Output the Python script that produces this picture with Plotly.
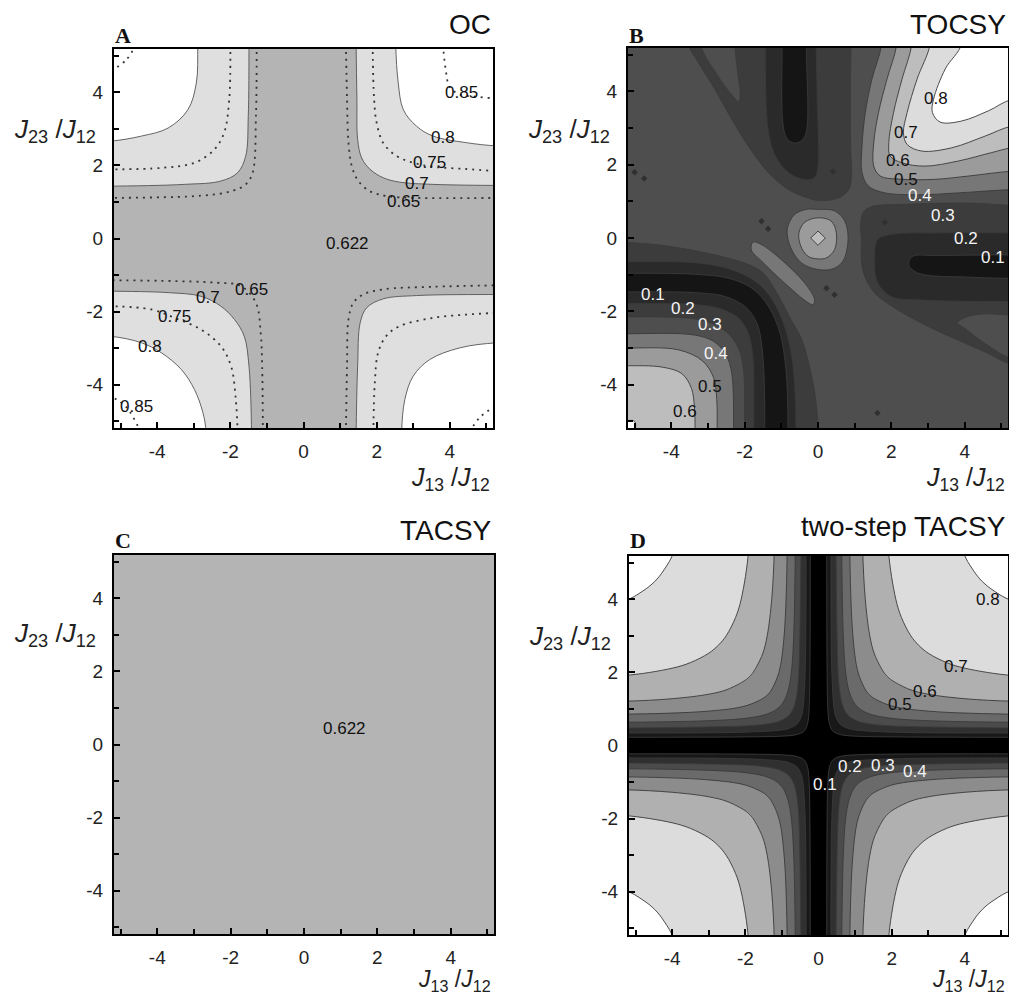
import plotly.graph_objects as go

# ================= DATA =================
TICK_VALS = [-4, -2, 0, 2, 4]
TICK_TEXT = ['-4', '-2', '0', '2', '4']
AX_RANGE = [-5.18, 5.18]

# ---- Panel A : OC  (contour lines, each from the top/bottom edge to the side edge)
OC_065_UR = [(1.16, 5.3), (1.19, 3.80), (1.23, 2.61), (1.32, 1.98), (1.50, 1.57), (1.82, 1.29), (2.27, 1.16), (3.09, 1.11), (5.3, 1.11)]
OC_065_LR = [(1.16, -5.3), (1.19, -3.49), (1.23, -2.21), (1.36, -1.76), (1.63, -1.53), (2.18, -1.39), (3.54, -1.32), (5.3, -1.28)]
OC_065_LL = [(-1.11, -5.3), (-1.13, -3.49), (-1.17, -2.58), (-1.30, -1.76), (-1.71, -1.30), (-2.35, -1.21), (-5.3, -1.14)]
OC_065_UL = [(-1.28, 5.3), (-1.30, 3.34), (-1.39, 1.80), (-1.58, 1.48), (-1.98, 1.29), (-2.80, 1.17), (-5.3, 1.11)]

OC_070_UR = [(1.44, 5.3), (1.46, 3.80), (1.48, 2.71), (1.59, 2.20), (1.82, 1.89), (2.18, 1.66), (2.63, 1.54), (3.54, 1.48), (5.3, 1.45)]
OC_070_LR = [(1.44, -5.3), (1.48, -3.49), (1.55, -2.30), (1.73, -1.89), (2.18, -1.65), (3.09, -1.56), (5.3, -1.53)]
OC_070_LL = [(-1.42, -5.3), (-1.49, -3.49), (-1.62, -2.67), (-1.89, -2.21), (-2.26, -1.85), (-2.80, -1.58), (-3.70, -1.48), (-5.3, -1.44)]
OC_070_UL = [(-1.49, 5.3), (-1.51, 3.34), (-1.58, 2.25), (-1.80, 1.80), (-2.26, 1.57), (-3.25, 1.48), (-5.3, 1.43)]

OC_075_UR = [(1.89, 5.3), (1.93, 3.80), (2.00, 3.16), (2.18, 2.61), (2.55, 2.25), (3.00, 2.07), (3.54, 1.96), (4.45, 1.90), (5.3, 1.84)]
OC_075_LR = [(1.91, -5.3), (1.95, -3.94), (2.04, -3.12), (2.26, -2.67), (2.62, -2.40), (3.54, -2.17), (4.45, -2.08), (5.3, -2.03)]
OC_075_LL = [(-1.80, -5.3), (-1.85, -4.40), (-1.98, -3.49), (-2.26, -2.94), (-2.80, -2.49), (-3.52, -2.17), (-4.16, -1.94), (-5.3, -1.85)]
OC_075_UL = [(-2.00, 5.3), (-2.03, 3.80), (-2.17, 2.89), (-2.44, 2.43), (-2.98, 2.07), (-3.89, 1.93), (-5.3, 1.89)]

OC_080_UR = [(2.52, 5.3), (2.59, 4.25), (2.73, 3.52), (3.09, 3.07), (3.54, 2.80), (4.45, 2.62), (5.3, 2.53)]
OC_080_LR = [(2.68, -5.3), (2.77, -4.40), (3.00, -3.76), (3.45, -3.31), (4.27, -2.99), (5.3, -2.85)]
OC_080_LL = [(-2.66, -5.3), (-2.75, -4.76), (-2.98, -4.13), (-3.34, -3.58), (-3.89, -3.12), (-4.43, -2.85), (-5.3, -2.67)]
OC_080_UL = [(-2.89, 5.3), (-2.93, 4.25), (-3.16, 3.52), (-3.70, 3.02), (-4.43, 2.80), (-5.3, 2.66)]

OC_085_UR = [(3.81, 5.3), (3.90, 4.53), (3.99, 4.15), (4.26, 3.94), (4.71, 3.88), (5.3, 3.82)]
OC_085_LR = [(4.54, -5.3), (4.81, -4.90), (5.3, -4.55)]
OC_085_LL = [(-4.45, -5.3), (-4.85, -4.60), (-5.3, -4.30)]
OC_085_UL = [(-4.58, 5.3), (-4.84, 4.89), (-5.3, 4.55)]

OC_LABELS = ['0.85', '0.8', '0.75', '0.7', '0.65', '0.622', '0.65', '0.7', '0.75', '0.8', '0.85']
OC_LABEL_X = [4.31, 3.81, 3.45, 3.09, 2.73, 1.19, -1.42, -2.62, -3.52, -4.20, -4.57]
OC_LABEL_Y = [3.98, 2.75, 2.08, 1.50, 1.01, -0.14, -1.39, -1.60, -2.12, -2.94, -4.58]

# ---- Panel B : TOCSY
TOC_040_UR = [(1.74, 5.3), (1.47, 4.33), (1.29, 3.42), (1.20, 2.51), (1.20, 1.78), (1.38, 1.41), (1.83, 1.23), (2.74, 1.18), (3.83, 1.23), (5.3, 1.32)]
TOC_050_UR = [(2.15, 5.3), (1.88, 4.33), (1.65, 3.42), (1.52, 2.60), (1.52, 1.96), (1.70, 1.69), (2.29, 1.60), (3.20, 1.60), (4.11, 1.69), (5.3, 1.82)]
TOC_060_UR = [(2.56, 5.3), (2.29, 4.33), (2.06, 3.42), (1.93, 2.60), (1.97, 2.23), (2.29, 2.05), (2.92, 1.96), (3.83, 2.10), (4.74, 2.33), (5.3, 2.46)]
TOC_070_UR = [(3.06, 5.3), (2.70, 4.33), (2.43, 3.42), (2.33, 2.87), (2.43, 2.55), (2.83, 2.37), (3.65, 2.46), (4.56, 2.78), (5.3, 3.05)]
TOC_080_UR = [(3.92, 5.3), (3.47, 4.61), (3.15, 3.78), (3.12, 3.42), (3.33, 3.16), (3.92, 3.19), (4.65, 3.47), (5.3, 3.78)]

TOC_030_RIGHT = [(5.3, 0.89), (4.18, 0.95), (2.36, 0.92), (1.45, 0.85), (1.23, 0.69), (1.16, 0.32), (1.18, 0.04), (1.22, -0.87), (1.52, -1.47), (2.11, -1.92), (3.02, -2.42), (3.83, -2.79), (4.56, -3.11), (5.3, -3.45)]
TOC_WEDGE_RIGHT = [(5.3, -2.10), (4.38, -2.08), (3.90, -2.22), (3.80, -2.32), (4.01, -2.47), (4.56, -2.88), (5.3, -3.29)]
TOC_020_RIGHT = [(5.3, 0.14), (3.27, 0.14), (2.00, 0.10), (1.63, -0.04), (1.54, -0.59), (1.63, -1.23), (2.00, -1.60), (2.82, -1.69), (4.18, -1.73), (5.3, -1.73)]
TOC_010_RIGHT = [(5.3, -0.46), (3.27, -0.48), (2.56, -0.51), (2.48, -0.74), (2.74, -0.96), (4.18, -1.07), (5.3, -1.10)]

TOC_030_TOP = [(-3.54, 5.3), (-3.27, 4.80), (-2.82, 4.07), (-2.36, 3.25), (-1.91, 2.52), (-1.36, 1.79), (-0.82, 1.33), (-0.36, 1.12), (0.02, 1.02), (0.40, 1.05), (0.62, 1.12), (0.84, 1.32), (0.91, 1.65), (0.89, 2.50), (0.88, 4.00), (0.90, 5.3)]
TOC_SLIVER_TOP = [(-3.21, 5.3), (-2.75, 4.45), (-2.35, 3.90), (-2.16, 3.72), (-2.12, 3.90), (-2.20, 4.60), (-2.27, 5.3)]
TOC_020_TOP = [(-1.44, 5.3), (-1.36, 2.96), (-1.16, 2.23), (-0.80, 1.78), (-0.35, 1.59), (-0.09, 1.65), (0.00, 1.97), (-0.02, 3.79), (-0.05, 5.3)]
TOC_010_TOP = [(-0.98, 5.3), (-0.95, 3.06), (-0.84, 2.70), (-0.64, 2.59), (-0.45, 2.65), (-0.32, 2.88), (-0.32, 5.3)]

TOC_040_BLOB = [(0.00, 0.78), (0.45, 0.74), (0.73, 0.46), (0.82, -0.04), (0.68, -0.63), (0.41, -0.84), (0.00, -0.86), (-0.45, -0.68), (-0.74, -0.27), (-0.84, 0.23), (-0.64, 0.64), (-0.32, 0.78)]
TOC_050_BLOB = [(0.00, 0.55), (0.36, 0.46), (0.50, 0.14), (0.45, -0.32), (0.23, -0.54), (0.00, -0.57), (-0.27, -0.50), (-0.47, -0.22), (-0.52, 0.14), (-0.36, 0.43)]
TOC_060_BLOB = [(0.00, 0.19), (0.20, 0.00), (0.00, -0.20), (-0.20, 0.00)]
TOC_040_STRIP = [(-1.77, -0.11), (-1.54, -0.18), (-1.00, -0.59), (-0.36, -1.23), (-0.09, -1.69), (-0.14, -1.82), (-0.32, -1.73), (-0.91, -1.23), (-1.54, -0.63), (-1.82, -0.32)]

TOC_030_LL_OUT = [(0.00, -5.3), (-0.02, -4.79), (-0.15, -3.88), (-0.45, -2.75), (-0.75, -2.20), (-1.12, -1.50), (-1.50, -0.95), (-1.90, -0.72), (-2.45, -0.55), (-3.34, -0.35), (-4.25, -0.20), (-5.3, -0.12)]
TOC_020_LL_OUT = [(-0.60, -5.3), (-0.62, -4.30), (-0.72, -3.20), (-0.95, -2.30), (-1.30, -1.60), (-1.75, -1.15), (-2.40, -0.85), (-3.30, -0.68), (-5.3, -0.64)]
TOC_010_LL_OUT = [(-0.82, -5.3), (-0.83, -4.34), (-0.89, -3.43), (-1.03, -2.61), (-1.34, -1.88), (-1.80, -1.37), (-2.43, -1.10), (-3.34, -0.99), (-5.3, -0.96)]
TOC_010_LL_IN = [(-1.45, -5.3), (-1.47, -3.79), (-1.53, -2.97), (-1.66, -2.33), (-1.98, -1.88), (-2.52, -1.60), (-3.34, -1.49), (-5.3, -1.47)]
TOC_020_LL_IN = [(-1.75, -5.3), (-1.75, -4.20), (-1.78, -3.20), (-1.90, -2.60), (-2.15, -2.20), (-2.60, -1.95), (-3.30, -1.82), (-5.3, -1.79)]
TOC_030_LL_IN = [(-2.00, -5.3), (-2.03, -3.60), (-2.15, -3.05), (-2.40, -2.65), (-2.80, -2.37), (-3.40, -2.20), (-5.3, -2.15)]
TOC_040_LL_IN = [(-2.30, -5.3), (-2.35, -3.70), (-2.50, -3.20), (-2.80, -2.85), (-3.34, -2.65), (-5.3, -2.61)]
TOC_050_LL_IN = [(-2.75, -5.3), (-2.76, -4.40), (-2.85, -3.80), (-3.15, -3.35), (-3.80, -3.05), (-5.3, -3.00)]
TOC_060_LL_IN = [(-3.35, -5.3), (-3.37, -4.60), (-3.45, -4.10), (-3.71, -3.70), (-4.25, -3.52), (-5.3, -3.48)]
TOC_080_LL_IN = [(-4.98, -5.3), (-5.00, -5.00), (-5.3, -4.98)]

TOC_SPECK_X = [0.41, 1.82, -1.54, -1.36, 0.23, 0.45, 1.62, -5.00, -4.74]
TOC_SPECK_Y = [1.81, 0.43, 0.46, 0.25, -1.37, -1.55, -4.77, 1.79, 1.62]

TOC_LABELS = ['0.8', '0.7', '0.6', '0.5', '0.4', '0.3', '0.2', '0.1', '0.1', '0.2', '0.3', '0.4', '0.5', '0.6']
TOC_LABEL_X = [3.22, 2.41, 2.18, 2.41, 2.77, 3.41, 4.04, 4.77, -4.50, -3.68, -2.95, -2.77, -2.95, -3.63]
TOC_LABEL_Y = [3.79, 2.88, 2.11, 1.60, 1.15, 0.60, -0.02, -0.52, -1.55, -1.91, -2.37, -3.15, -4.06, -4.74]
TOC_LABEL_WHITE = [False, False, False, False, True, True, True, True, True, True, True, True, False, False]

# ---- Panel C : TACSY (uniform value)
TACSY_VALUE = 0.622
TACSY_LABEL_XY = (1.11, 0.43)

# ---- Panel D : two-step TACSY (upper-right quadrant contours, symmetric in all quadrants)
TT_LEVELS = [0.1, 0.2, 0.3, 0.4, 0.5, 0.6, 0.7, 0.8]
TT_010 = [(0.225, 5.3), (0.235, 2.0), (0.256, 1.0), (0.297, 0.6), (0.393, 0.393), (0.6, 0.297), (1.0, 0.256), (2.0, 0.235), (5.3, 0.225)]
TT_020 = [(0.34, 5.3), (0.365, 2.0), (0.426, 1.0), (0.469, 0.8), (0.587, 0.587), (0.8, 0.469), (1.0, 0.426), (2.0, 0.365), (5.3, 0.34)]
TT_030 = [(0.48, 5.3), (0.536, 2.0), (0.577, 1.5), (0.628, 1.2), (0.694, 1.0), (0.816, 0.816), (1.0, 0.694), (1.2, 0.628), (1.5, 0.577), (2.0, 0.536), (5.3, 0.48)]
TT_040 = [(0.635, 5.3), (0.678, 3.0), (0.743, 2.0), (0.831, 1.5), (0.953, 1.2), (1.061, 1.061), (1.2, 0.953), (1.5, 0.831), (2.0, 0.743), (3.0, 0.678), (5.3, 0.635)]
TT_050 = [(0.855, 5.3), (0.94, 3.0), (1.082, 2.0), (1.299, 1.5), (1.392, 1.392), (1.5, 1.299), (2.0, 1.082), (3.0, 0.94), (5.3, 0.855)]
TT_060 = [(1.21, 5.3), (1.279, 4.0), (1.402, 3.0), (1.529, 2.5), (1.786, 2.0), (1.886, 1.886), (2.0, 1.786), (2.5, 1.529), (3.0, 1.402), (4.0, 1.279), (5.3, 1.21)]
TT_070 = [(1.914, 5.3), (2.113, 4.0), (2.267, 3.5), (2.523, 3.0), (2.739, 2.739), (3.0, 2.523), (3.5, 2.267), (4.0, 2.113), (5.3, 1.914)]
TT_080 = [(3.965, 5.3), (4.224, 4.8), (4.48, 4.48), (4.8, 4.224), (5.3, 3.965)]

TT_LABELS = ['0.8', '0.7', '0.6', '0.5', '0.4', '0.3', '0.2', '0.1']
TT_LABEL_X = [4.63, 3.77, 2.91, 2.23, 2.63, 1.77, 0.86, 0.18]
TT_LABEL_Y = [3.99, 2.17, 1.48, 1.12, -0.71, -0.54, -0.57, -1.07]
TT_LABEL_WHITE = [False, False, False, False, True, True, True, True]

# ================= STYLE =================
OC_COLORS = {'low': '#b4b4b4', 'mid': '#dfdfdf', 'high': '#ffffff'}
TOC_COLORS = {'c01': '#151515', 'c12': '#2a2a2a', 'c23': '#3c3c3c', 'c34': '#4e4e4e', 'c45': '#777777',
              'c56': '#9b9b9b', 'c67': '#bdbdbd', 'c78': '#dcdcdc', 'c8': '#ffffff'}
TT_COLORS = ['#000000', '#181818', '#303030', '#4b4b4b', '#6a6a6a', '#8c8c8c', '#b0b0b0', '#dcdcdc', '#ffffff']
LINE_COLOR = '#3a3a3a'
FONT = 'Liberation Sans, Arial, sans-serif'
LABEL_SIZE = 17

W, H = 1009, 995
PANELS = {  # pixel boxes: left, top, right, bottom
    'A': (114, 49, 493, 428),
    'B': (628, 48, 1008, 428),
    'C': (114, 555, 494, 934),
    'D': (629, 556, 1008, 935),
}
AX = {'A': ('x', 'y'), 'B': ('x2', 'y2'), 'C': ('x3', 'y3'), 'D': ('x4', 'y4')}

fig = go.Figure()
FAR = 6.5


def ext(curve):
    pts = list(curve)

    def out(x, y):
        if abs(y) >= 5.29:
            return (x, FAR if y > 0 else -FAR)
        if abs(x) >= 5.29:
            return (FAR if x > 0 else -FAR, y)
        return None
    a = out(*pts[0])
    b = out(*pts[-1])
    return ([a] if a else []) + pts + ([b] if b else [])


def corner_poly(curve, sx, sy):
    return ext(curve) + [(sx * FAR, sy * FAR)]


def cross(ur, lr, ll, ul):
    return ext(ur) + ext(lr)[::-1] + ext(ll) + ext(ul)[::-1]


def mirror(curve, sx, sy):
    return [(sx * x, sy * y) for x, y in curve]


def add_region(panel, pts, color, line_color=LINE_COLOR, width=0.9, shape='spline'):
    xa, ya = AX[panel]
    xs = [p[0] for p in pts] + [pts[0][0]]
    ys = [p[1] for p in pts] + [pts[0][1]]
    fig.add_trace(go.Scatter(x=xs, y=ys, fill='toself', fillcolor=color, mode='lines',
                             line=dict(color=line_color, width=width, shape=shape, smoothing=1.0),
                             hoverinfo='skip', showlegend=False, xaxis=xa, yaxis=ya))


def add_line(panel, pts, color='#333333', width=1.8, dash='2px,5px'):
    xa, ya = AX[panel]
    fig.add_trace(go.Scatter(x=[p[0] for p in pts], y=[p[1] for p in pts], mode='lines',
                             line=dict(color=color, width=width, dash=dash, shape='spline', smoothing=1.0),
                             hoverinfo='skip', showlegend=False, xaxis=xa, yaxis=ya))


BOX = [(-FAR, -FAR), (FAR, -FAR), (FAR, FAR), (-FAR, FAR)]

# ---------- Panel A ----------
add_region('A', BOX, OC_COLORS['high'], line_color=OC_COLORS['high'], shape='linear')
add_region('A', cross(OC_080_UR, OC_080_LR, OC_080_LL, OC_080_UL), OC_COLORS['mid'], line_color='#555555')
add_region('A', cross(OC_070_UR, OC_070_LR, OC_070_LL, OC_070_UL), OC_COLORS['low'], line_color='#555555')
for c in (OC_065_UR, OC_065_LR, OC_065_LL, OC_065_UL, OC_075_UR, OC_075_LR, OC_075_LL, OC_075_UL,
          OC_085_UR, OC_085_LR, OC_085_LL, OC_085_UL):
    add_line('A', c)

# ---------- Panel B ----------
T = TOC_COLORS
add_region('B', BOX, T['c34'], line_color=T['c34'], shape='linear')
for curve, col in ((TOC_040_UR, 'c45'), (TOC_050_UR, 'c56'), (TOC_060_UR, 'c67'), (TOC_070_UR, 'c78'), (TOC_080_UR, 'c8')):
    add_region('B', corner_poly(curve, 1, 1), T[col])
add_region('B', ext(TOC_030_RIGHT), T['c23'])
add_region('B', ext(TOC_WEDGE_RIGHT), T['c34'])
add_region('B', ext(TOC_020_RIGHT), T['c12'])
add_region('B', ext(TOC_010_RIGHT), T['c01'])
add_region('B', ext(TOC_030_TOP), T['c23'])
add_region('B', ext(TOC_SLIVER_TOP), T['c34'])
add_region('B', ext(TOC_020_TOP), T['c12'])
add_region('B', ext(TOC_010_TOP), T['c01'])
add_region('B', TOC_040_BLOB, T['c45'])
add_region('B', TOC_050_BLOB, T['c56'])
add_region('B', TOC_060_BLOB, T['c67'], shape='linear')
add_region('B', TOC_040_STRIP, T['c45'])
for curve, col in ((TOC_030_LL_OUT, 'c23'), (TOC_020_LL_OUT, 'c12'), (TOC_010_LL_OUT, 'c01'),
                   (TOC_010_LL_IN, 'c12'), (TOC_020_LL_IN, 'c23'), (TOC_030_LL_IN, 'c34'),
                   (TOC_040_LL_IN, 'c45'), (TOC_050_LL_IN, 'c56'), (TOC_060_LL_IN, 'c67'),
                   (TOC_080_LL_IN, 'c8')):
    add_region('B', corner_poly(curve, -1, -1), T[col])
fig.add_trace(go.Scatter(x=TOC_SPECK_X, y=TOC_SPECK_Y, mode='markers',
                         marker=dict(symbol='diamond', size=5, color='#303030'),
                         hoverinfo='skip', showlegend=False, xaxis='x2', yaxis='y2'))

# ---------- Panel C ----------
fig.add_trace(go.Heatmap(z=[[TACSY_VALUE]], x=[-FAR, FAR], y=[-FAR, FAR],
                         colorscale=[[0, OC_COLORS['low']], [1, OC_COLORS['low']]],
                         showscale=False, hoverinfo='skip', xaxis='x3', yaxis='y3'))

# ---------- Panel D ----------
add_region('D', BOX, TT_COLORS[7], line_color=TT_COLORS[7], shape='linear')
for sx, sy in ((1, 1), (1, -1), (-1, -1), (-1, 1)):
    add_region('D', corner_poly(mirror(TT_080, sx, sy), sx, sy), TT_COLORS[8])
for curve, col in ((TT_070, 6), (TT_060, 5), (TT_050, 4), (TT_040, 3), (TT_030, 2), (TT_020, 1), (TT_010, 0)):
    add_region('D', cross(curve, mirror(curve, 1, -1), mirror(curve, -1, -1), mirror(curve, -1, 1)),
               TT_COLORS[col])

# ================= LAYOUT =================
layout = dict(width=W, height=H, margin=dict(l=0, r=0, t=0, b=0), paper_bgcolor='white',
              plot_bgcolor='white', showlegend=False)


def axis_style(anchor, dom):
    return dict(domain=dom, anchor=anchor, range=AX_RANGE, showline=True, mirror=True, linecolor='black',
                linewidth=2, ticks='inside', ticklen=6, tickwidth=1.5, tickcolor='black',
                tickmode='array', tickvals=TICK_VALS, ticktext=TICK_TEXT,
                minor=dict(ticks='inside', ticklen=5, tickwidth=1.5, tickcolor='black', dtick=1, tick0=0),
                showgrid=False, zeroline=False, ticklabelstandoff=5,
                tickfont=dict(family=FONT, size=19, color='#222222'), fixedrange=True)


for i, key in enumerate(['A', 'B', 'C', 'D']):
    l, t, r, b = PANELS[key]
    sfx = '' if i == 0 else str(i + 1)
    layout['xaxis' + sfx] = axis_style('y' + sfx, [l / W, r / W])
    layout['yaxis' + sfx] = axis_style('x' + sfx, [1 - b / H, 1 - t / H])

ann = []
TITLES = {'A': 'OC', 'B': 'TOCSY', 'C': 'TACSY', 'D': 'two-step TACSY'}
TITLE_Y = {'A': 25, 'B': 25, 'C': 530, 'D': 526}
LETTER_Y = {'A': 35, 'B': 35, 'C': 540, 'D': 540}
YLAB_Y = {'A': 130, 'B': 130, 'C': 634, 'D': 637}
XLAB_Y = {'A': 479, 'B': 479, 'C': 980, 'D': 980}
XLAB_SIZE = {'A': 25, 'B': 25, 'C': 23, 'D': 23}
J23 = '<i>J</i><sub>23</sub> /<i>J</i><sub>12</sub>'
J13 = '<i>J</i><sub>13</sub> /<i>J</i><sub>12</sub>'
for key in PANELS:
    l, t, r, b = PANELS[key]
    ann.append(dict(x=r / W, y=1 - TITLE_Y[key] / H, xref='paper', yref='paper', xanchor='right', yanchor='middle',
                    text=TITLES[key], showarrow=False, font=dict(family=FONT, size=28, color='#111111')))
    ann.append(dict(x=(l - 1) / W, y=1 - LETTER_Y[key] / H, xref='paper', yref='paper', xanchor='left',
                    yanchor='middle', text='<b>' + key + '</b>', showarrow=False,
                    font=dict(family='Liberation Serif, Times New Roman, serif', size=22, color='#111111')))
    ann.append(dict(x=(l - 16) / W, y=1 - YLAB_Y[key] / H, xref='paper', yref='paper', xanchor='right',
                    yanchor='middle', text=J23, showarrow=False, font=dict(family=FONT, size=26, color='#222222')))
    ann.append(dict(x=(r - 1) / W, y=1 - XLAB_Y[key] / H, xref='paper', yref='paper', xanchor='right',
                    yanchor='middle', text=J13, showarrow=False,
                    font=dict(family=FONT, size=XLAB_SIZE[key], color='#222222')))

for txt, x, y in zip(OC_LABELS, OC_LABEL_X, OC_LABEL_Y):
    ann.append(dict(x=x, y=y, xref='x', yref='y', text=txt, showarrow=False,
                    font=dict(family=FONT, size=LABEL_SIZE, color='#111111')))
for txt, x, y, wht in zip(TOC_LABELS, TOC_LABEL_X, TOC_LABEL_Y, TOC_LABEL_WHITE):
    ann.append(dict(x=x, y=y, xref='x2', yref='y2', text=txt, showarrow=False,
                    font=dict(family=FONT, size=LABEL_SIZE, color='#f4f4f4' if wht else '#111111')))
ann.append(dict(x=TACSY_LABEL_XY[0], y=TACSY_LABEL_XY[1], xref='x3', yref='y3', text=str(TACSY_VALUE),
                showarrow=False, font=dict(family=FONT, size=LABEL_SIZE, color='#111111')))
for txt, x, y, wht in zip(TT_LABELS, TT_LABEL_X, TT_LABEL_Y, TT_LABEL_WHITE):
    ann.append(dict(x=x, y=y, xref='x4', yref='y4', text=txt, showarrow=False,
                    font=dict(family=FONT, size=LABEL_SIZE, color='#f4f4f4' if wht else '#111111')))
layout['annotations'] = ann
fig.update_layout(**layout)
fig.write_html('out.html')
